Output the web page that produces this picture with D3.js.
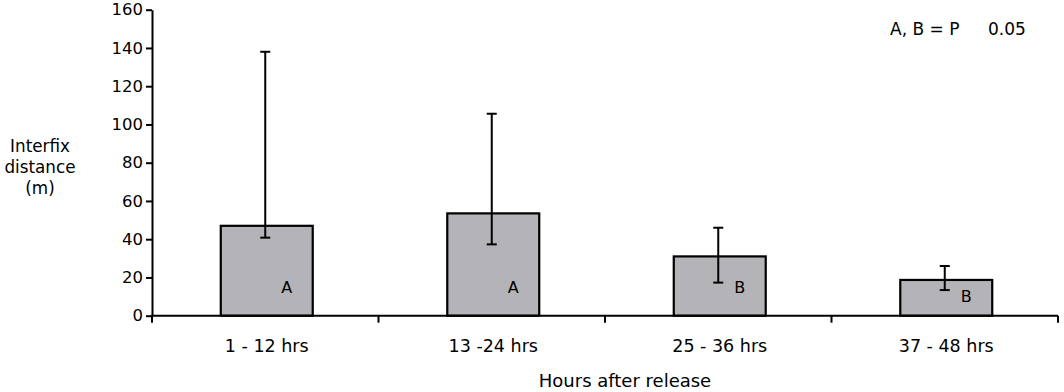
<!DOCTYPE html>
<html lang="en">
<head>
<meta charset="UTF-8">
<title>Interfix distance</title>
<script src="https://d3js.org/d3.v7.min.js"></script>
<style>
    body { margin: 0; background: #fff; }
    text { font-family: "DejaVu Sans", Verdana, sans-serif; fill: #000; }
</style>
</head>
<body>
<div id="chart"></div>
<script>
    // categories and values
    const categories = ['1 - 12 hrs', '13 -24 hrs', '25 - 36 hrs', '37 - 48 hrs'];
    const means = [47, 53.5, 31, 18.7];
    const errHigh = [138, 105.6, 46, 26];
    const errLow = [40.8, 37.3, 17.3, 13.4];
    const letters = ['A', 'A', 'B', 'B'];
    const letterAt = [15, 15, 15, 10];   // height of the significance letter (in axis units)
    const yTicks = [0, 20, 40, 60, 80, 100, 120, 140, 160];

    const width = 1064, height = 392;
    const plotLeft = 152, plotRight = 1058, plotTop = 9.7, plotBottom = 315.7;

    const svg = d3.select('#chart')
        .append('svg')
        .attr('width', width)
        .attr('height', height);

    const x = d3.scaleBand()
        .domain(categories)
        .range([plotLeft + 1.5, plotRight + 1.5])
        .paddingInner(0.594)
        .paddingOuter(0.297);

    const y = d3.scaleLinear()
        .domain([0, 160])
        .range([plotBottom, plotTop]);

    // bars
    svg.append('g')
        .selectAll('rect')
        .data(categories)
        .enter()
        .append('rect')
        .attr('x', d => x(d))
        .attr('width', x.bandwidth())
        .attr('y', (d, i) => y(means[i]))
        .attr('height', (d, i) => y(0) - y(means[i]))
        .attr('fill', '#b4b4b8')
        .attr('stroke', '#000')
        .attr('stroke-width', 2.2);

    // error bars
    const err = svg.append('g')
        .selectAll('g')
        .data(categories)
        .enter()
        .append('g')
        .attr('stroke', '#000')
        .attr('stroke-width', 2);

    const cx = d => x(d) + x.bandwidth() / 2 - 1.5;
    err.append('line')
        .attr('x1', cx).attr('x2', cx)
        .attr('y1', (d, i) => y(errLow[i]))
        .attr('y2', (d, i) => y(errHigh[i]));
    err.append('line')
        .attr('x1', d => cx(d) - 5).attr('x2', d => cx(d) + 5)
        .attr('y1', (d, i) => y(errHigh[i])).attr('y2', (d, i) => y(errHigh[i]));
    err.append('line')
        .attr('x1', d => cx(d) - 5).attr('x2', d => cx(d) + 5)
        .attr('y1', (d, i) => y(errLow[i])).attr('y2', (d, i) => y(errLow[i]));

    // significance letters
    svg.append('g')
        .selectAll('text')
        .data(categories)
        .enter()
        .append('text')
        .attr('x', d => x(d) + x.bandwidth() / 2 + 20)
        .attr('y', (d, i) => y(letterAt[i]))
        .attr('dy', '0.35em')
        .attr('text-anchor', 'middle')
        .style('font-size', '16px')
        .text((d, i) => letters[i]);

    // y axis
    const yAxis = svg.append('g')
        .attr('transform', `translate(${plotLeft},0)`)
        .call(d3.axisLeft(y).tickValues(yTicks).tickSize(6).tickSizeOuter(0).tickPadding(3));
    yAxis.select('.domain').attr('stroke-width', 2);
    yAxis.selectAll('.tick line').attr('stroke-width', 2);
    yAxis.selectAll('.tick text').style('font-size', '16.5px').style('font-family', '"DejaVu Sans", Verdana, sans-serif');

    // x axis: line, ticks on the band boundaries, labels at the centres
    const xg = svg.append('g');
    xg.append('line')
        .attr('x1', plotLeft - 1).attr('x2', plotRight)
        .attr('y1', y(0)).attr('y2', y(0))
        .attr('stroke', '#000').attr('stroke-width', 2);
    xg.selectAll('.bound')
        .data(d3.range(categories.length + 1))
        .enter()
        .append('line')
        .attr('x1', i => Math.min(plotRight, x.range()[0] - 1.5 + i * x.step()))
        .attr('x2', i => Math.min(plotRight, x.range()[0] - 1.5 + i * x.step()))
        .attr('y1', y(0)).attr('y2', y(0) + 7)
        .attr('stroke', '#000').attr('stroke-width', 2);

    const catAxis = svg.append('g')
        .attr('transform', `translate(0,${y(0)})`)
        .call(d3.axisBottom(x).tickSize(0).tickPadding(24));
    catAxis.select('.domain').remove();
    catAxis.selectAll('text').style('font-size', '17.5px').style('font-family', '"DejaVu Sans", Verdana, sans-serif');

    // titles
    svg.append('text')
        .attr('x', 625)
        .attr('y', 387)
        .attr('text-anchor', 'middle')
        .style('font-size', '18px')
        .text('Hours after release');

    const yTitle = svg.append('text')
        .attr('text-anchor', 'middle')
        .style('font-size', '16.8px')
        .attr('transform', 'translate(40,146)');
    ['Interfix', 'distance', '(m)'].forEach((t, i) => {
        yTitle.append('tspan').attr('x', 0).attr('y', i * 21).attr('dy', '0.35em').text(t);
    });

    svg.append('text')
        .attr('x', 890).attr('y', 29).attr('dy', '0.35em')
        .style('font-size', '17px')
        .text('A, B = P');
    svg.append('text')
        .attr('x', 988).attr('y', 29).attr('dy', '0.35em')
        .style('font-size', '17px')
        .text('0.05');
</script>
</body>
</html>
